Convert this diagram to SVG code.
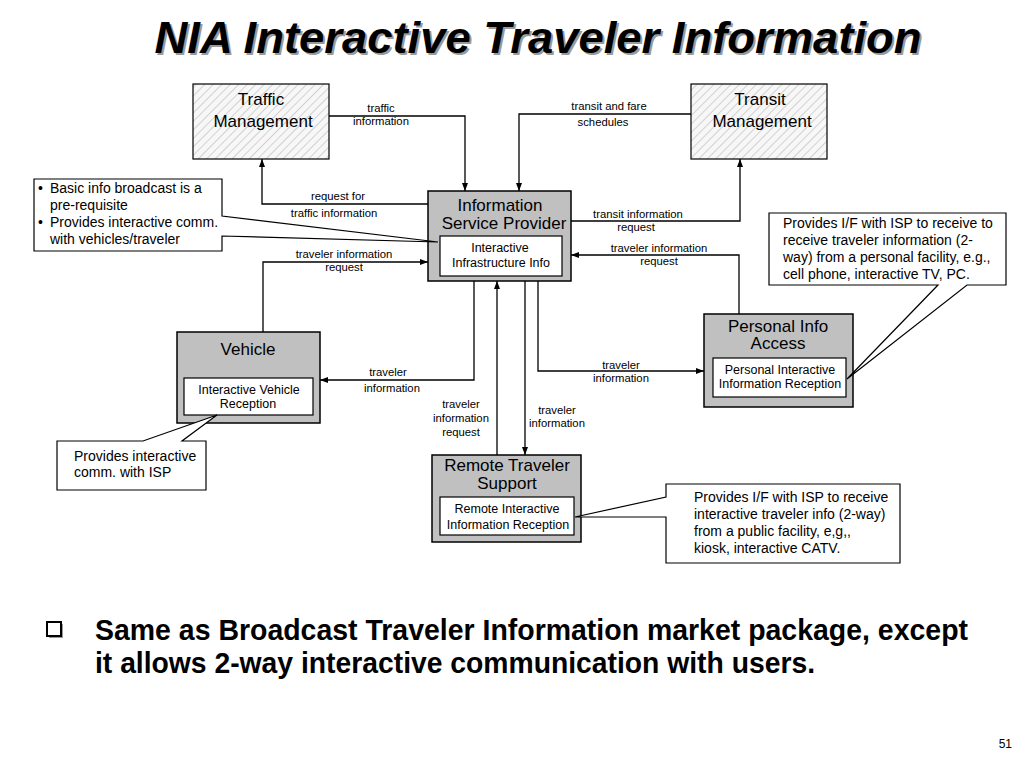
<svg xmlns="http://www.w3.org/2000/svg" width="1024" height="768" viewBox="0 0 1024 768">
<defs>
<pattern id="hatch" width="6" height="6" patternUnits="userSpaceOnUse" patternTransform="rotate(45)">
<rect width="6" height="6" fill="#f7f7f7"/>
<line x1="0" y1="0" x2="0" y2="6" stroke="#b8b8b8" stroke-width="1.2"/>
</pattern>
<marker id="arr" markerWidth="8" markerHeight="6" refX="8" refY="3" orient="auto" markerUnits="userSpaceOnUse">
<path d="M0,0 L8,3 L0,6 Z" fill="#000"/>
</marker>
<style>
.ext{fill:url(#hatch);stroke:#000;stroke-width:1.2}
.gray{fill:#c0c0c0;stroke:#000;stroke-width:1.5}
.inner{fill:#fff;stroke:#000;stroke-width:1.2}
.call{fill:#fff;stroke:#000;stroke-width:1.2}
.conn{fill:none;stroke:#000;stroke-width:1.3}
.t{font-family:"Liberation Sans",Arial,sans-serif;fill:#000}
.big{font-size:17px}
.mid{font-size:12.5px}
.lab{font-size:11.3px}
.note{font-size:14px}
</style>
</defs>
<rect width="1024" height="768" fill="#fff"/>

<g id="title">
<text x="540" y="55" text-anchor="middle" class="t" font-size="44" font-weight="bold" font-style="italic" textLength="767" lengthAdjust="spacingAndGlyphs" style="fill:#9a9a9a">NIA Interactive Traveler Information</text>
<text x="538" y="53" text-anchor="middle" class="t" font-size="44" font-weight="bold" font-style="italic" textLength="767" lengthAdjust="spacingAndGlyphs">NIA Interactive Traveler Information</text>
</g>

<g id="connectors">
<polyline class="conn" points="329,116 465,116 465,191" marker-end="url(#arr)"/>
<polyline class="conn" points="428,204 262,204 262,159" marker-end="url(#arr)"/>
<polyline class="conn" points="691,114 519,114 519,191" marker-end="url(#arr)"/>
<polyline class="conn" points="571,221 740,221 740,159" marker-end="url(#arr)"/>
<polyline class="conn" points="739,314 739,255 571,255" marker-end="url(#arr)"/>
<polyline class="conn" points="263,332 263,262 428,262" marker-end="url(#arr)"/>
<polyline class="conn" points="474,281 474,380 320,380" marker-end="url(#arr)"/>
<polyline class="conn" points="538,281 538,371 704,371" marker-end="url(#arr)"/>
<polyline class="conn" points="497,455 497,281" marker-end="url(#arr)"/>
<polyline class="conn" points="525,281 525,455" marker-end="url(#arr)"/>
<g class="t lab" text-anchor="middle">
<text x="381" y="112">traffic</text>
<text x="381" y="125">information</text>
<text x="338" y="200">request for</text>
<text x="334" y="217">traffic information</text>
<text x="609" y="110">transit and fare</text>
<text x="603" y="126">schedules</text>
<text x="638" y="218">transit information</text>
<text x="636" y="231">request</text>
<text x="659" y="252">traveler information</text>
<text x="659" y="265">request</text>
<text x="344" y="258">traveler information</text>
<text x="344" y="271">request</text>
<text x="388" y="376">traveler</text>
<text x="392" y="392">information</text>
<text x="621" y="369">traveler</text>
<text x="621" y="382">information</text>
<text x="461" y="408">traveler</text>
<text x="461" y="422">information</text>
<text x="461" y="436">request</text>
<text x="557" y="414">traveler</text>
<text x="557" y="427">information</text>
</g>
</g>

<g id="traffic-management">
<rect class="ext" x="193" y="84" width="136" height="75"/>
<text class="t big" x="261" y="105" text-anchor="middle">Traffic</text>
<text class="t big" x="263" y="127" text-anchor="middle">Management</text>
</g>

<g id="transit-management">
<rect class="ext" x="691" y="84" width="136" height="75"/>
<text class="t big" x="760" y="105" text-anchor="middle">Transit</text>
<text class="t big" x="762" y="127" text-anchor="middle">Management</text>
</g>

<g id="isp">
<rect class="gray" x="428" y="191" width="143" height="90"/>
<text class="t big" x="500" y="211" text-anchor="middle">Information</text>
<text class="t big" x="504" y="229" text-anchor="middle">Service Provider</text>
<rect class="inner" x="440" y="236" width="122" height="40"/>
<text class="t mid" x="500" y="252" text-anchor="middle">Interactive</text>
<text class="t mid" x="501" y="267" text-anchor="middle">Infrastructure Info</text>
</g>

<g id="vehicle">
<rect class="gray" x="177" y="332" width="143" height="91"/>
<text class="t big" x="248" y="355" text-anchor="middle">Vehicle</text>
<rect class="inner" x="184" y="378" width="129" height="37"/>
<text class="t mid" x="249" y="394" text-anchor="middle">Interactive Vehicle</text>
<text class="t mid" x="248" y="408" text-anchor="middle">Reception</text>
</g>

<g id="personal-info-access">
<rect class="gray" x="704" y="314" width="149" height="93"/>
<text class="t big" x="778" y="332" text-anchor="middle">Personal Info</text>
<text class="t big" x="778" y="349" text-anchor="middle">Access</text>
<rect class="inner" x="713" y="358" width="133" height="39"/>
<text class="t mid" x="780" y="374" text-anchor="middle">Personal Interactive</text>
<text class="t mid" x="780" y="388" text-anchor="middle">Information Reception</text>
</g>

<g id="remote-traveler-support">
<rect class="gray" x="432" y="455" width="149" height="87"/>
<text class="t big" x="507" y="471" text-anchor="middle">Remote Traveler</text>
<text class="t big" x="507" y="489" text-anchor="middle">Support</text>
<rect class="inner" x="440" y="497" width="134" height="38"/>
<text class="t mid" x="507" y="513" text-anchor="middle">Remote Interactive</text>
<text class="t mid" x="508" y="529" text-anchor="middle">Information Reception</text>
</g>

<g id="note-isp">
<path class="call" d="M34,179 H222 V216 L438,242 L222,236 V251 H34 Z"/>
<g class="t note">
<text x="38" y="193">•</text><text x="50" y="193">Basic info broadcast is a</text>
<text x="50" y="210">pre-requisite</text>
<text x="38" y="227">•</text><text x="50" y="227">Provides interactive comm.</text>
<text x="50" y="244">with vehicles/traveler</text>
</g>
</g>

<g id="note-personal">
<path class="call" d="M769,213 H1006 V285 H967 L847,379 L938,285 H769 Z"/>
<g class="t note">
<text x="783" y="228">Provides I/F with ISP to receive to</text>
<text x="783" y="245">receive traveler information (2-</text>
<text x="783" y="262">way) from a personal facility, e.g.,</text>
<text x="783" y="279">cell phone, interactive TV, PC.</text>
</g>
</g>

<g id="note-vehicle">
<path class="call" d="M57,441 H143 L217,415 L182,441 H206 V490 H57 Z"/>
<g class="t note">
<text x="74" y="461">Provides interactive</text>
<text x="74" y="477">comm. with ISP</text>
</g>
</g>

<g id="note-remote">
<path class="call" d="M666,484 H900 V563 H666 V517 L575,517 L666,497 Z"/>
<g class="t note">
<text x="694" y="502">Provides I/F with ISP to receive</text>
<text x="694" y="519">interactive traveler info (2-way)</text>
<text x="694" y="536">from a public facility, e,g,,</text>
<text x="694" y="553">kiosk, interactive CATV.</text>
</g>
</g>

<g id="bullet-text">
<rect x="49" y="624" width="14" height="14" fill="#999"/>
<rect x="47" y="622" width="14" height="14" fill="#fff" stroke="#000" stroke-width="2"/>
<text class="t" x="95" y="640" font-size="30" font-weight="bold" textLength="873" lengthAdjust="spacingAndGlyphs">Same as Broadcast Traveler Information market package, except</text>
<text class="t" x="95" y="673" font-size="30" font-weight="bold" textLength="720" lengthAdjust="spacingAndGlyphs">it allows 2-way interactive communication with users.</text>
</g>

<text class="t" x="1012" y="748" font-size="12" text-anchor="end">51</text>
</svg>
